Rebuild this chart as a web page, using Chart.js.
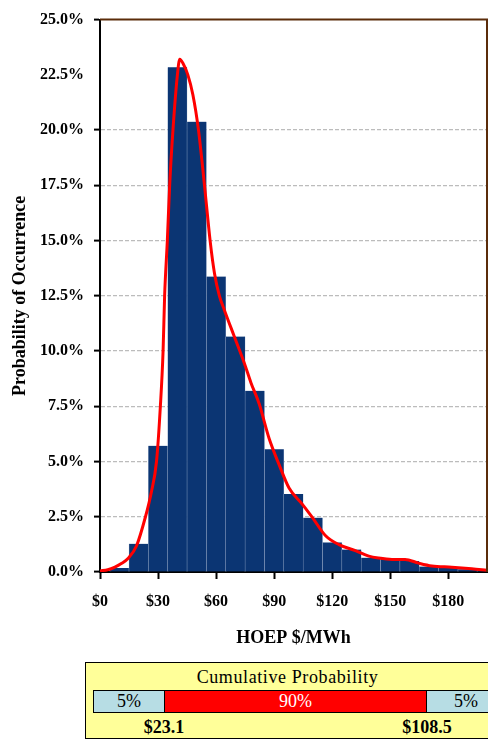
<!DOCTYPE html>
<html>
<head>
<meta charset="utf-8">
<script src="https://cdn.jsdelivr.net/npm/chart.js@4"></script>
<style>
  html, body { margin:0; padding:0; background:#fff; width:488px; height:740px; overflow:hidden; }
  #wrap { position:absolute; left:0; top:0; width:488px; height:655px; }
  #panel { position:absolute; left:85px; top:662px; width:420px; height:77px; background:#ffff99;
           border:1px solid #000; box-sizing:border-box; font-family:'Liberation Serif','Times New Roman',serif; color:#000; }
  #panel .ttl { position:absolute; left:0; width:403px; top:3px; text-align:center; font-size:18px; letter-spacing:0.6px; line-height:22px; }
  #panel .seg { position:absolute; top:27px; height:23px; box-sizing:border-box; border:1px solid #000; text-align:center;
                font-size:18px; line-height:21px; }
  #panel .bnd { position:absolute; top:53px; width:80px; margin-left:-40px; text-align:center; font-size:18px; font-weight:bold; line-height:22px; }
</style>
</head>
<body>
<div id="wrap"><canvas id="c"></canvas></div>
<div id="panel"></div>
<script>
// ---- data ----
const binCenters = [10, 20, 30, 40, 50, 60, 70, 80, 90, 100, 110, 120, 130, 140, 150, 160, 170, 180, 190, 200];
const binProb    = [0.18, 1.28, 5.71, 22.84, 20.38, 13.37, 10.66, 8.2, 5.55, 3.53, 2.46, 1.34, 1.02, 0.65, 0.6, 0.5, 0.25, 0.2, 0.12, 0.1];

const curveX = [0, 4, 7.7, 11, 14.6, 18.9, 23.5, 26.5, 29.2, 31.2, 32.6, 33.4, 34.8, 36, 37.7, 40, 41.2, 43, 45.4, 48, 50.9, 54, 56.9, 59.2, 61.7, 64.3, 69.4, 74.6, 78, 82.3, 87.4, 92.6, 97.7, 104.6, 109.8, 116.6, 123.5, 132, 138.9, 144, 150.9, 157.7, 164.6, 171.5, 181.8, 192.1, 200];
const curveY = [0.05, 0.1, 0.22, 0.38, 0.62, 1.19, 2.5, 3.6, 5.0, 7.5, 10.0, 12.5, 15.0, 17.5, 20.0, 22.5, 23.2, 23.0, 22.5, 21.6, 20.0, 17.5, 15.0, 13.5, 12.5, 11.85, 10.66, 9.45, 8.57, 7.6, 6.04, 4.85, 3.8, 3.06, 2.46, 1.64, 1.24, 0.97, 0.72, 0.63, 0.57, 0.57, 0.4, 0.27, 0.22, 0.15, 0.08];

const xTicks = [0, 30, 60, 90, 120, 150, 180];
const yTicks = [0, 2.5, 5, 7.5, 10, 12.5, 15, 17.5, 20, 22.5, 25];
const hiddenGrid = [22.5, 25];

const xTitle = 'HOEP $/MWh';
const yTitle = 'Probability of Occurrence';

const panelTitle = 'Cumulative Probability';
const segLabels  = ['5%', '90%', '5%'];
const boundLabels = ['$23.1', '$108.5'];

// ---- chart ----
const FONT = "'Liberation Serif','Times New Roman',serif";

const frame = {
  id: 'frame',
  afterDatasetsDraw(chart) {
    const {ctx, chartArea: a} = chart;
    ctx.save();
    ctx.strokeStyle = '#5b2c0a';
    ctx.lineWidth = 2;
    ctx.beginPath();
    ctx.moveTo(a.left, a.top);
    ctx.lineTo(a.right, a.top);
    ctx.lineTo(a.right, a.bottom);
    ctx.stroke();
    ctx.restore();
  }
};

new Chart(document.getElementById('c'), {
  type: 'bar',
  data: {
    datasets: [
      {
        type: 'line',
        data: curveX.map((x, i) => ({x, y: curveY[i]})),
        borderColor: '#ff0000',
        borderWidth: 3,
        pointRadius: 0,
        cubicInterpolationMode: 'monotone',
        fill: false,
        order: 0
      },
      {
        type: 'bar',
        data: binCenters.map((x, i) => ({x, y: binProb[i]})),
        backgroundColor: '#0b3573',
        borderColor: '#9aabc8',
        borderWidth: {left: 0.5, right: 0.5, top: 0, bottom: 0},
        barPercentage: 1,
        categoryPercentage: 1,
        order: 1
      }
    ]
  },
  plugins: [frame],
  options: {
    animation: false,
    responsive: true,
    maintainAspectRatio: false,
    layout: {padding: {left: 0, right: 1, top: 13, bottom: 0}},
    plugins: {legend: {display: false}, tooltip: {enabled: false}},
    scales: {
      x: {
        type: 'linear',
        min: 0, max: 200,
        offset: false,
        afterBuildTicks: s => { s.ticks = xTicks.map(v => ({value: v})); },
        afterFit: s => { s.height = 83; },
        ticks: {
          callback: v => '$' + v,
          font: {family: FONT, size: 16, weight: 'bold'},
          color: '#000', padding: 13, maxRotation: 0, autoSkip: false
        },
        grid: {offset: false, drawOnChartArea: false, drawTicks: true, tickLength: 7, tickColor: '#000', tickWidth: 2},
        border: {display: true, color: '#000', width: 2},
        title: {display: true, text: xTitle, color: '#000',
                font: {family: FONT, size: 18, weight: 'bold'}, padding: {top: 0, bottom: 6}}
      },
      y: {
        min: 0, max: 25,
        afterBuildTicks: s => { s.ticks = yTicks.map(v => ({value: v})); },
        afterFit: s => { s.width = 100; },
        ticks: {
          callback: v => v.toFixed(1) + '%',
          font: {family: FONT, size: 16, weight: 'bold'},
          color: '#000', padding: 10, autoSkip: false
        },
        grid: {
          color: c => (c.tick && (hiddenGrid.includes(c.tick.value) || c.tick.value === 0)) ? 'rgba(0,0,0,0)' : '#bcbcbc',
          lineWidth: 1.2,
          tickBorderDash: [],
          tickLength: 6,
          tickWidth: 2,
          tickColor: c => (c.tick && c.tick.value === 22.5) ? 'rgba(0,0,0,0)' : '#000'
        },
        border: {display: true, color: '#000', width: 2, dash: [4, 2]},
        title: {display: true, text: yTitle, color: '#000',
                font: {family: FONT, size: 18, weight: 'bold'}, padding: {top: 10, bottom: 0}}
      }
    }
  }
});

// ---- cumulative probability panel ----
const panel = document.getElementById('panel');
const segLeft  = [7, 78, 340];
const segWidth = [72, 263, 80];
const segBg    = ['#b7dde4', '#ff0000', '#b7dde4'];
const segColor = ['#000', '#fff', '#000'];
const bndPos   = [78, 341];

const t = document.createElement('div');
t.className = 'ttl'; t.textContent = panelTitle; panel.appendChild(t);
segLabels.forEach((s, i) => {
  const d = document.createElement('div');
  d.className = 'seg';
  d.style.left = segLeft[i] + 'px';
  d.style.width = segWidth[i] + 'px';
  d.style.background = segBg[i];
  d.style.color = segColor[i];
  d.textContent = s;
  panel.appendChild(d);
});
boundLabels.forEach((s, i) => {
  const d = document.createElement('div');
  d.className = 'bnd';
  d.style.left = bndPos[i] + 'px';
  d.textContent = s;
  panel.appendChild(d);
});
</script>
</body>
</html>
